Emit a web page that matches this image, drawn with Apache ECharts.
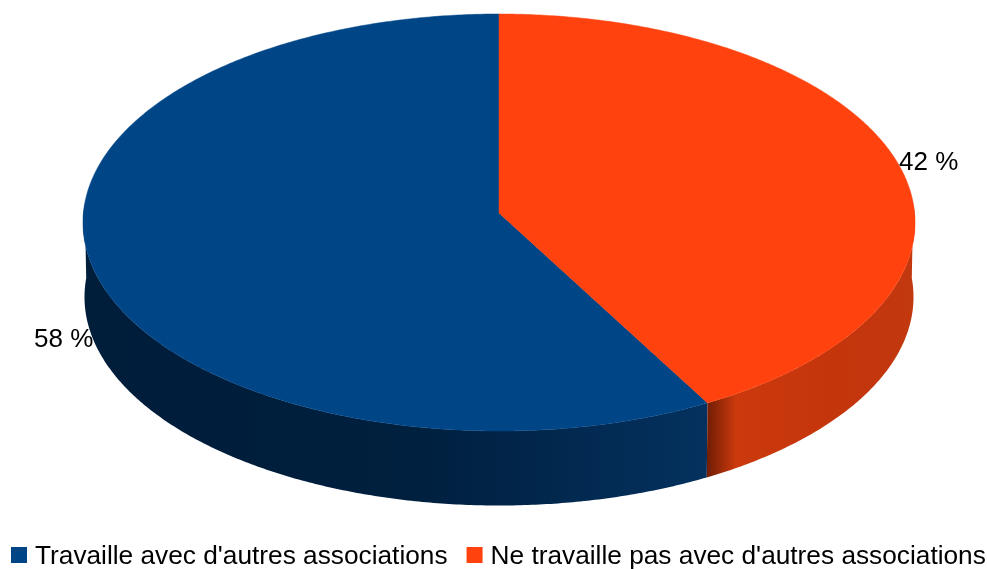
<!DOCTYPE html>
<html>
<head>
<meta charset="utf-8">
<style>html,body{margin:0;padding:0;background:#fff}#c{width:987px;height:569px}</style>
<script src="https://cdn.jsdelivr.net/npm/echarts@6/dist/echarts.min.js"></script>
</head>
<body>
<div id="c"></div>
<script>
const categories = ["Travaille avec d'autres associations", "Ne travaille pas avec d'autres associations"];
const values = [58, 42];
const topColors = ['#004586', '#ff420e'];
const wallStops = [
  [[0, '#001d3a'], [0.55, '#00203f'], [1, '#04315f']],
  [[0, '#6f1d05'], [0.14, '#cb390d'], [0.6, '#c5350c'], [1, '#c2380f']]
];

const FONT = '26px "Liberation Sans", Arial, sans-serif';
const CX = 499, CY = 222.5, RX = 416, RY = 208.5, PERSP = 0.0456, CENTER_SHIFT = -9.5;
const DEPTH = 74.5, LOWER_RX = 414.5;
const WALL_FROM = 87.4, WALL_TO = 272.6;
const total = values.reduce((a, b) => a + b, 0);
const rad = d => d * Math.PI / 180;

// Perspective projection of a point of the disc (angle clockwise from 12 o'clock)
function project(deg, r, lower) {
  const u = Math.sin(rad(deg)) * r, v = -Math.cos(rad(deg)) * r;
  const w = 1 - PERSP * v;
  const a = (lower ? LOWER_RX : RX) * Math.sqrt(1 - PERSP * PERSP);
  return [CX + a * u / w, CY + (lower ? DEPTH : 0) + (RY * v + CENTER_SHIFT) / w];
}
function arc(from, to, lower) {
  const pts = [], n = Math.max(2, Math.ceil(Math.abs(to - from) * 2));
  for (let i = 0; i <= n; i++) pts.push(project(from + (to - from) * i / n, 1, lower));
  return pts;
}

// Slices run clockwise from 12 o'clock, the last category first.
function sliceRange(idx) {
  let start = 0;
  for (let i = values.length - 1; i > idx; i--) start += values[i];
  return [start / total * 360, (start + values[idx]) / total * 360];
}

function renderSlice(idx) {
  return function (params, api) {
    const [a0, a1] = sliceRange(idx);
    const children = [];
    const w0 = Math.max(a0, WALL_FROM), w1 = Math.min(a1, WALL_TO);
    if (w1 > w0) {
      children.push({
        type: 'polygon',
        shape: { points: arc(w0, w1, false).concat(arc(w1, w0, true)) },
        style: {
          fill: new echarts.graphic.LinearGradient(0, 0, 1, 0,
            wallStops[idx].map(s => ({ offset: s[0], color: s[1] })))
        }
      });
    }
    const top = [project(0, 0, false)].concat(arc(a0, a1, false));
    children.push({
      type: 'polygon', shape: { points: top },
      style: { fill: topColors[idx], stroke: topColors[idx], lineWidth: 0.5 }
    });
    const mid = (a0 + a1) / 2;
    const front = Math.cos(rad(mid)) < 0 || mid > 180;
    const p = project(mid, 1, front);
    const right = p[0] > CX;
    children.push({
      type: 'text', z2: 10,
      style: {
        text: api.value(0) + ' %', x: p[0] + (right ? 2 : 0), y: p[1] + (right ? 1 : 0),
        font: FONT, fill: '#000',
        align: right ? 'left' : 'right', verticalAlign: 'middle'
      }
    });
    return { type: 'group', children };
  };
}

const chart = echarts.init(document.getElementById('c'), null, { renderer: 'canvas' });
chart.setOption({
  animation: false,
  backgroundColor: '#fff',
  legend: {
    left: 11, top: 544, width: 985, padding: 0, itemGap: 19,
    itemWidth: 16, itemHeight: 16, icon: 'rect',
    data: categories.map((name, i) => ({ name, icon: 'rect', itemStyle: { color: topColors[i] } })),
    formatter: '{t|{name}}',
    textStyle: {
      fontFamily: '"Liberation Sans", Arial, sans-serif', fontSize: 26.25, color: '#000',
      rich: { t: { fontFamily: '"Liberation Sans", Arial, sans-serif', fontSize: 26.25, color: '#000', padding: [4, 0, 0, 3] } }
    }
  },
  series: categories.map((name, i) => ({
    type: 'custom', name,
    coordinateSystem: 'none',
    silent: true,
    itemStyle: { color: topColors[i] },
    data: [[values[i]]],
    encode: { value: 0 },
    renderItem: renderSlice(i)
  }))
});
</script>
</body>
</html>
